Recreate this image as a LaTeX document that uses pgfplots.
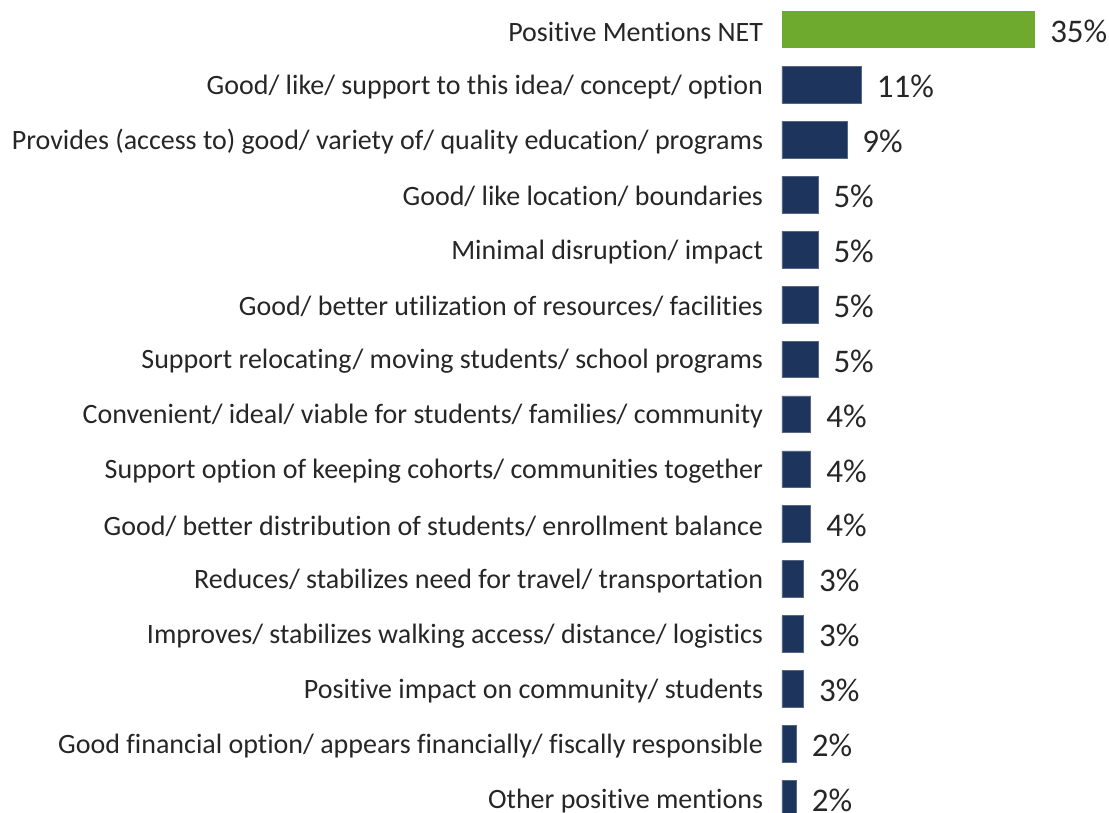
\documentclass[border=0pt]{standalone}
\usepackage{pgfplots}
\pgfplotsset{compat=1.18}
\usetikzlibrary{calc}
\usepackage{fontspec}
\setmainfont{Carlito}[RawFeature={-liga;-clig;-dlig;-calt}]
\definecolor{netgreen}{RGB}{110,170,45}
\definecolor{navy}{RGB}{29,53,92}
\definecolor{txt}{RGB}{38,38,38}
\begin{document}
\begin{tikzpicture}
\begin{axis}[
  name=ax,
  xbar,
  scale only axis,
  width=144.5pt,
  height=412.05pt,
  xmin=0, xmax=40,
  ymin=-0.5, ymax=14.5,
  y dir=reverse,
  bar width=0.67,
  bar shift=0pt,
  axis line style={draw=none},
  tick style={draw=none},
  xtick=\empty,
  ytick={0,...,14},
  yticklabels={
    Positive Mentions NET,
    Good/ like/ support to this idea/ concept/ option,
    Provides (access to) good/ variety of/ quality education/ programs,
    Good/ like location/ boundaries,
    Minimal disruption/ impact,
    Good/ better utilization of resources/ facilities,
    Support relocating/ moving students/ school programs,
    Convenient/ ideal/ viable for students/ families/ community,
    Support option of keeping cohorts/ communities together,
    Good/ better distribution of students/ enrollment balance,
    Reduces/ stabilizes need for travel/ transportation,
    Improves/ stabilizes walking access/ distance/ logistics,
    Positive impact on community/ students,
    Good financial option/ appears financially/ fiscally responsible,
    Other positive mentions},
  yticklabel style={font=\fontsize{14}{16}\selectfont, text=txt, inner sep=0pt, xshift=-5pt, yshift=-1pt},
  nodes near coords={\pgfmathprintnumber[assume math mode=true]{\pgfplotspointmeta}\%},
  nodes near coords style={font=\fontsize{16.5}{19}\selectfont, text=txt, anchor=west, inner sep=0pt, xshift=7.5pt, yshift=-0.8pt},
  clip=false,
]
\addplot[fill=netgreen, draw=none] coordinates {(35,0)};
\addplot[fill=navy, draw=navy!75!white, line width=0.4pt] coordinates {
  (11,1) (9,2) (5,3) (5,4) (5,5) (5,6) (4,7) (4,8) (4,9) (3,10) (3,11) (3,12) (2,13) (2,14)};
\end{axis}
\pgfresetboundingbox
\path[use as bounding box] ($(ax.north west)+(-391pt,1.165pt)$) rectangle +(554.5pt,-406.5pt);
\end{tikzpicture}
\end{document}
